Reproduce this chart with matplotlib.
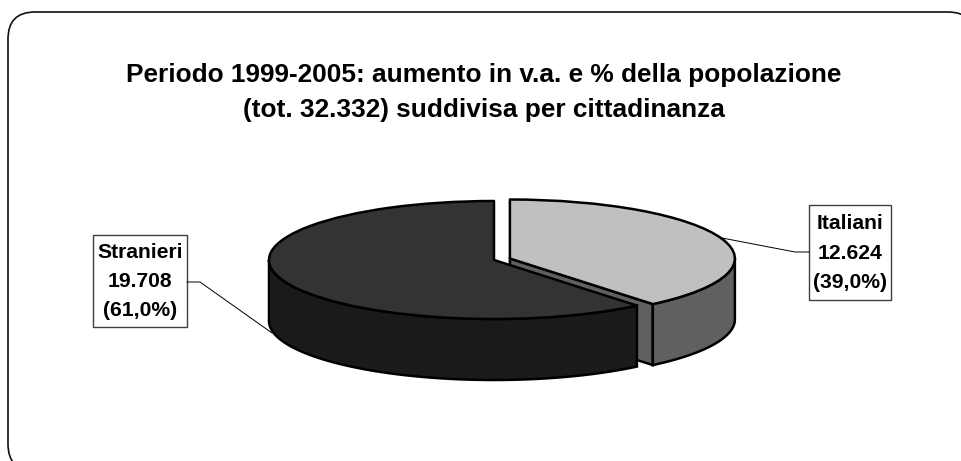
import numpy as np
import matplotlib
matplotlib.use("Agg")
import matplotlib.pyplot as plt
from matplotlib.patches import FancyBboxPatch, Polygon, Rectangle

plt.rcParams['font.family'] = ['Liberation Sans', 'DejaVu Sans']

# values
categories = ["Italiani", "Stranieri"]
values = [12624, 19708]
value_labels = ["12.624", "19.708"]
pct_labels = ["(39,0%)", "(61,0%)"]
title = "Periodo 1999-2005: aumento in v.a. e % della popolazione\n(tot. 32.332) suddivisa per cittadinanza"

top_colors = ["#c0c0c0", "#333333"]
side_colors = ["#606060", "#1a1a1a"]

W, H = 961, 461
CX, CY = 494, 260   # pie centre in pixels
RX, RY = 225, 59    # pie radii in pixels
DEPTH = 61 / RY
EXPLODE = 0.075
EDGE = 1.8

fig = plt.figure(figsize=(W / 100, H / 100), dpi=100)

# background layer in pixel coordinates: frame, title, labels
bg = fig.add_axes([0, 0, 1, 1])
bg.set_xlim(0, W)
bg.set_ylim(H, 0)
bg.axis("off")

# frame runs off the right and bottom edges of the picture
bg.add_patch(FancyBboxPatch((8, 12), 967, 459, boxstyle="round,pad=0,rounding_size=27",
                            fc="white", ec="#111111", lw=1.2))

bg.text(484, 92.5, title, ha="center", va="center", fontsize=18.9, fontweight="bold",
        linespacing=1.59, color="black")

# leader lines
bg.plot([187, 200, 272], [282, 282, 333], color="black", lw=0.7)
bg.plot([809, 795, 722], [252, 252, 238], color="black", lw=0.7)

# label boxes
boxes = {"Italiani": (809, 205, 82, 95), "Stranieri": (93, 235, 94, 92)}
for name, val, pct in zip(categories, value_labels, pct_labels):
    x, y, w, h = boxes[name]
    bg.add_patch(Rectangle((x, y), w, h, fc="white", ec="#404040", lw=1.0))
    bg.text(x + w / 2, y + h / 2 + 0.5, f"{name}\n{val}\n{pct}", ha="center", va="center",
            fontsize=15.2, fontweight="bold", linespacing=1.68, color="black")

# pie layer, unit circle squashed to the ellipse
ax = fig.add_axes([0, 0, 1, 1])
ax.patch.set_alpha(0)
wedges, _ = ax.pie(values, startangle=90, counterclock=False, colors=top_colors,
                   explode=[EXPLODE, 0], radius=1,
                   wedgeprops={"edgecolor": "black", "linewidth": EDGE, "joinstyle": "round"})
ax.set_aspect("auto")
ax.set_xlim(-CX / RX, (W - CX) / RX)
ax.set_ylim((CY - H) / RY, CY / RY)
ax.axis("off")


def add_wall(t1, t2, off, color, z):
    t = np.radians(np.linspace(t1, t2, 200))
    xs = off[0] + np.cos(t)
    ys = off[1] + np.sin(t)
    pts = np.r_[np.c_[xs, ys], np.c_[xs, ys - DEPTH][::-1]]
    ax.add_patch(Polygon(pts, closed=True, fc=color, ec="black", lw=EDGE, zorder=z))


# angles of the cut between the slices come from the values
cut = 90 - 360 * values[0] / sum(values)
mid = np.radians((90 + cut) / 2)
off = (EXPLODE * np.cos(mid), EXPLODE * np.sin(mid))

# inner cut face of the exploded slice, then its outer wall
ex, ey = off[0] + np.cos(np.radians(cut)), off[1] + np.sin(np.radians(cut))
ax.add_patch(Polygon([off, (ex, ey), (ex, ey - DEPTH), (off[0], off[1] - DEPTH)], closed=True,
                     fc=side_colors[0], ec="black", lw=EDGE, zorder=2))
add_wall(cut, 0, off, side_colors[0], 3)
wedges[0].set_zorder(4)
add_wall(cut, -180, (0, 0), side_colors[1], 5)
wedges[1].set_zorder(6)

fig.savefig("out.png", dpi=100)
